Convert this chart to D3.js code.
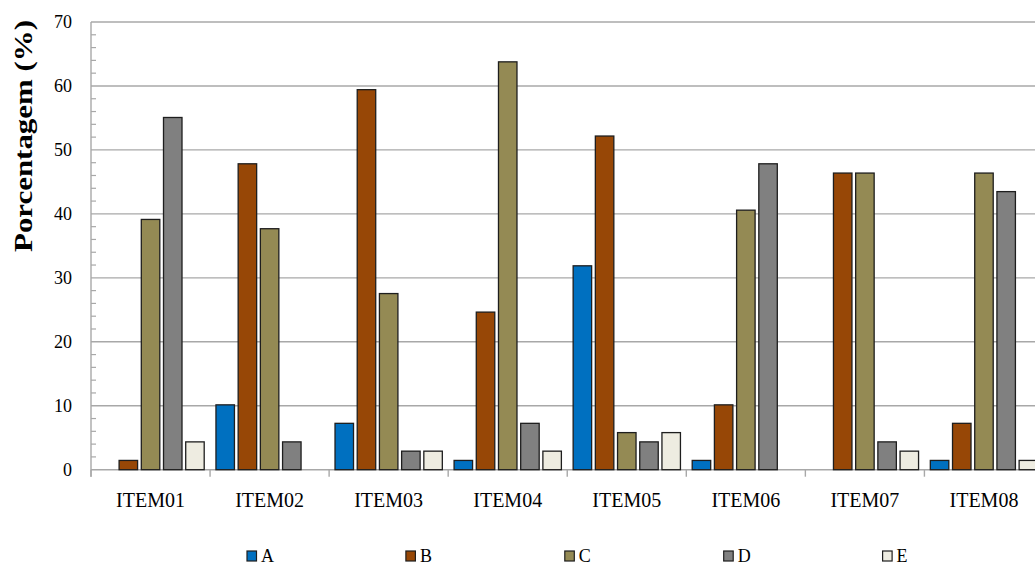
<!DOCTYPE html>
<html>
<head>
<meta charset="utf-8">
<script src="https://cdn.jsdelivr.net/npm/d3@7"></script>
<style>
  html, body { margin: 0; padding: 0; background: #fff; }
  svg { display: block; }
  text { font-family: "Liberation Serif", "Times New Roman", serif; fill: #000; }
</style>
</head>
<body>
<svg id="chart" width="1035" height="563"></svg>
<script>
// Categories and answer options
const items = ["ITEM01", "ITEM02", "ITEM03", "ITEM04", "ITEM05", "ITEM06", "ITEM07", "ITEM08"];
const options = ["A", "B", "C", "D", "E"];

// Percentage of answers per option, one array per option (in item order)
const valuesA = [0, 10.14, 7.25, 1.45, 31.88, 1.45, 0, 1.45];
const valuesB = [1.45, 47.83, 59.42, 24.64, 52.17, 10.14, 46.38, 7.25];
const valuesC = [39.13, 37.68, 27.54, 63.77, 5.80, 40.58, 46.38, 46.38];
const valuesD = [55.07, 4.35, 2.90, 7.25, 4.35, 47.83, 4.35, 43.48];
const valuesE = [4.35, 0, 2.90, 2.90, 5.80, 0, 2.90, 1.45];

const yTicks = [0, 10, 20, 30, 40, 50, 60, 70];
const yMinorTicks = [2, 4, 6, 8, 12, 14, 16, 18, 22, 24, 26, 28, 32, 34, 36, 38, 42, 44, 46, 48, 52, 54, 56, 58, 62, 64, 66, 68];
const yTitle = "Porcentagem (%)";

const colors = {A: "#0070C0", B: "#974706", C: "#948A54", D: "#808080", E: "#EEECE1"};
const seriesValues = {A: valuesA, B: valuesB, C: valuesC, D: valuesD, E: valuesE};

(function () {
  const svg = d3.select("#chart");
  const plotLeft = 91, plotTop = 22, plotBottom = 469.7;
  const bandStep = 119.06;

  const x0 = d3.scaleBand().domain(items).range([plotLeft, plotLeft + bandStep * items.length]).padding(0);
  const x1 = d3.scaleBand().domain(options).range([5.9, 113.2]).paddingInner(0.167).paddingOuter(0);
  const y = d3.scaleLinear().domain([0, 70]).range([plotBottom, plotTop]);

  const gridColor = "#a8a8a8";

  // Horizontal gridlines
  svg.append("g").selectAll("line").data(yTicks).join("line")
    .attr("x1", plotLeft).attr("x2", 1035)
    .attr("y1", d => y(d)).attr("y2", d => y(d))
    .attr("stroke", gridColor).attr("stroke-width", 1.4);

  // Minor ticks on the inside of the value axis
  svg.append("g").selectAll("line").data(yMinorTicks).join("line")
    .attr("x1", plotLeft).attr("x2", plotLeft + 5)
    .attr("y1", d => y(d)).attr("y2", d => y(d))
    .attr("stroke", gridColor).attr("stroke-width", 1.2);

  // Value axis line
  svg.append("line")
    .attr("x1", plotLeft).attr("x2", plotLeft)
    .attr("y1", plotTop).attr("y2", plotBottom + 7)
    .attr("stroke", gridColor).attr("stroke-width", 1.4);

  // Category ticks below the baseline
  const boundaries = items.map(d => x0(d)).concat([x0(items[items.length - 1]) + x0.bandwidth()]);
  svg.append("g").selectAll("line").data(boundaries).join("line")
    .attr("x1", d => d).attr("x2", d => d)
    .attr("y1", plotBottom).attr("y2", plotBottom + 7)
    .attr("stroke", gridColor).attr("stroke-width", 1.4);

  // Value labels
  svg.append("g").selectAll("text").data(yTicks).join("text")
    .attr("x", 72).attr("y", d => y(d)).attr("dy", "0.35em")
    .attr("text-anchor", "end").attr("font-size", 18)
    .text(d => d);

  // Bars
  const groups = svg.append("g").selectAll("g").data(items).join("g")
    .attr("transform", d => `translate(${x0(d)},0)`);
  groups.selectAll("rect")
    .data((d, i) => options.map(o => ({opt: o, value: seriesValues[o][i]})).filter(e => e.value > 0))
    .join("rect")
    .attr("x", d => x1(d.opt))
    .attr("width", x1.bandwidth())
    .attr("y", d => y(d.value))
    .attr("height", d => plotBottom - y(d.value))
    .attr("fill", d => colors[d.opt])
    .attr("stroke", "#1e1e1e").attr("stroke-width", 1.3);

  // Category labels
  svg.append("g").selectAll("text").data(items).join("text")
    .attr("x", d => x0(d) + x0.bandwidth() / 2)
    .attr("y", 506.5)
    .attr("text-anchor", "middle").attr("font-size", 20)
    .text(d => d);

  // Axis title
  svg.append("text")
    .attr("transform", "translate(31.5,136) rotate(-90)")
    .attr("text-anchor", "middle")
    .attr("font-size", 26).attr("font-weight", "bold")
    .attr("textLength", 232).attr("lengthAdjust", "spacingAndGlyphs")
    .text(yTitle);

  // Legend
  const legend = svg.append("g").selectAll("g").data(options).join("g")
    .attr("transform", (d, i) => `translate(${247 + i * 158.9},551)`);
  legend.append("rect")
    .attr("width", 9.5).attr("height", 10)
    .attr("fill", d => colors[d])
    .attr("stroke", "#1e1e1e").attr("stroke-width", 1.2);
  legend.append("text")
    .attr("x", 14).attr("y", 10.7)
    .attr("font-size", 18)
    .text(d => d);
})();
</script>
</body>
</html>
